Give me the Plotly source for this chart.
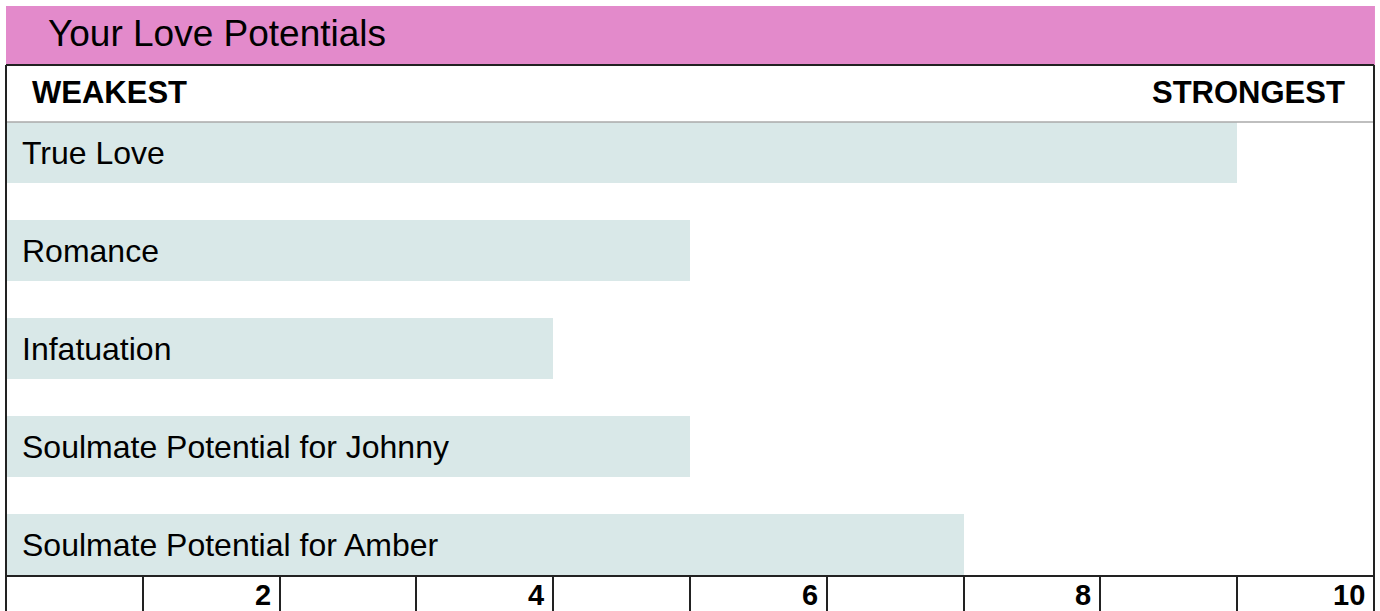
import plotly.graph_objects as go

# ---- data ----
categories = ["True Love", "Romance", "Infatuation",
              "Soulmate Potential for Johnny", "Soulmate Potential for Amber"]
values = [9, 5, 4, 5, 7]
tick_values = [2, 4, 6, 8, 10]
tick_labels = ["2", "4", "6", "8", "10"]
grid_values = [1, 2, 3, 4, 5, 6, 7, 8, 9]
title_text = "Your Love Potentials"
left_header = "WEAKEST"
right_header = "STRONGEST"

# ---- layout geometry (pixels) ----
W, H = 1380, 611
ML, MR, MT, MB = 6, 6, 122, 36
PH = H - MT - MB


def py(y_px):
    """pixel y (from top) -> paper y"""
    return (H - MB - y_px) / PH


FONT = "Liberation Sans, Arial, Helvetica, sans-serif"
BAR_COLOR = "#D9E8E8"
PINK = "#E38ACB"
DARK = "#222222"

bar_w = 0.6224
half = bar_w / 2

fig = go.Figure()
fig.add_trace(go.Bar(
    x=values, y=list(range(len(categories))), orientation="h",
    width=bar_w, marker=dict(color=BAR_COLOR, line=dict(width=0)),
    hoverinfo="skip", showlegend=False,
))

annotations = []
for i, c in enumerate(categories):
    annotations.append(dict(
        x=0, y=i, xref="x", yref="y", text=c, showarrow=False,
        xanchor="left", yanchor="middle", xshift=14,
        font=dict(family=FONT, size=32, color="#000000"),
    ))
for v, t in zip(tick_values, tick_labels):
    annotations.append(dict(
        x=v, y=py(595), xref="x", yref="paper", text="<b>%s</b>" % t,
        showarrow=False, xanchor="right", yanchor="middle", xshift=-7,
        font=dict(family=FONT, size=29, color="#000000"),
    ))
annotations += [
    dict(x=0, y=py(34), xref="paper", yref="paper", text=title_text,
         showarrow=False, xanchor="left", yanchor="middle", xshift=40,
         font=dict(family=FONT, size=37, color="#000000")),
    dict(x=0, y=py(92), xref="paper", yref="paper", text="<b>%s</b>" % left_header,
         showarrow=False, xanchor="left", yanchor="middle", xshift=24,
         font=dict(family=FONT, size=31, color="#000000")),
    dict(x=1, y=py(92), xref="paper", yref="paper", text="<b>%s</b>" % right_header,
         showarrow=False, xanchor="right", yanchor="middle", xshift=-27,
         font=dict(family=FONT, size=31, color="#000000")),
]

shapes = [
    # pink title band
    dict(type="rect", xref="paper", yref="paper", x0=0, x1=1.0007,
         y0=py(65), y1=py(6), fillcolor=PINK, line=dict(width=0), layer="below"),
    # top border of the box
    dict(type="line", xref="paper", yref="paper", x0=0, x1=1,
         y0=py(65), y1=py(65), line=dict(color=DARK, width=2)),
    # header separator
    dict(type="line", xref="paper", yref="paper", x0=0, x1=1,
         y0=1, y1=1, line=dict(color="#AAAAAA", width=1.5)),
    # left / right borders
    dict(type="line", xref="paper", yref="paper", x0=0, x1=0,
         y0=py(620), y1=py(65), line=dict(color=DARK, width=2)),
    dict(type="line", xref="paper", yref="paper", x0=1, x1=1,
         y0=py(620), y1=py(65), line=dict(color=DARK, width=2)),
]

fig.update_layout(
    width=W, height=H,
    margin=dict(l=ML, r=MR, t=MT, b=MB, pad=0, autoexpand=False),
    paper_bgcolor="white", plot_bgcolor="white",
    bargap=0,
    xaxis=dict(range=[0, 10], showgrid=False, zeroline=False, automargin=False,
               showline=True, linecolor=DARK, linewidth=2,
               ticks="outside", ticklen=38, tickwidth=1.5, tickcolor=DARK,
               tickvals=grid_values, showticklabels=False, fixedrange=True),
    yaxis=dict(range=[len(categories) - 1 + half, -half], showgrid=False,
               zeroline=False, showticklabels=False, showline=False,
               automargin=False, ticks="", fixedrange=True),
    annotations=annotations, shapes=shapes,
    showlegend=False,
)

fig.write_html(
    "out.html",
    config={"displayModeBar": False},
    post_script="document.body.style.margin='0';document.body.style.padding='0';"
                "document.body.style.overflow='hidden';",
)
